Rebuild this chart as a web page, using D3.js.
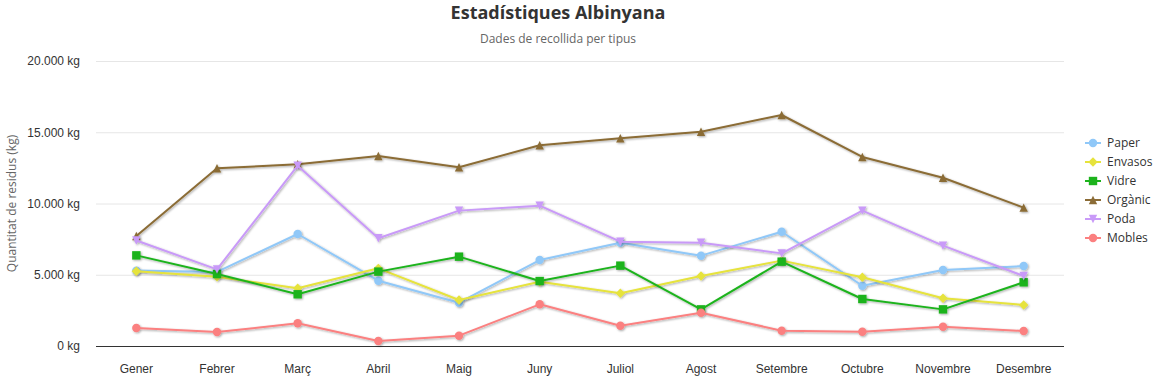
<!DOCTYPE html>
<html><head><meta charset="utf-8">
<script src="https://cdn.jsdelivr.net/npm/d3@7/dist/d3.min.js"></script>
<style>body{margin:0;background:#fff;}svg{display:block;font-family:"Open Sans","Noto Sans",sans-serif;}</style>
</head><body><svg id="c" width="1159" height="379"></svg>
<script>
const months = ["Gener","Febrer","Març","Abril","Maig","Juny","Juliol","Agost","Setembre","Octubre","Novembre","Desembre"];
const seriesNames = ["Paper","Envasos","Vidre","Orgànic","Poda","Mobles"];
const paper   = [5290,5200,7860,4580,3040,6030,7250,6340,8020,4230,5330,5610];
const envasos = [5250,4860,4050,5450,3230,4510,3700,4910,5990,4820,3350,2880];
const vidre   = [6360,5050,3630,5220,6270,4560,5640,2570,5920,3300,2570,4470];
const organic = [7720,12470,12750,13330,12540,14085,14575,15040,16210,13265,11810,9710];
const poda    = [7400,5380,12650,7560,9500,9850,7320,7250,6500,9500,7040,4910];
const mobles  = [1260,980,1590,350,725,2925,1425,2340,1075,1005,1355,1050];
const yTicks  = [0,5000,10000,15000,20000];
const colors  = ["#90c8f8","#e6e33c","#1cb31c","#8b6c36","#c99af8","#fb8080"];
const symbols = ["circle","diamond","square","triangle","tdown","circle"];
const values  = [paper,envasos,vidre,organic,poda,mobles];

const svg = d3.select("#c");
const L=96,R=1064,T=61,B=346;
const x = d3.scaleBand().domain(months).range([L,R]);
const y = d3.scaleLinear().domain([0,20000]).range([B,T]);
const fmt = v => d3.format(",")(v).replace(/,/g,".")+" kg";

const defs = svg.append("defs");
const f = defs.append("filter").attr("id","sh").attr("x","-5%").attr("y","-20%").attr("width","110%").attr("height","140%");
f.append("feDropShadow").attr("dx",1).attr("dy",1).attr("stdDeviation",1.2).attr("flood-color","#000").attr("flood-opacity",0.35);

svg.append("text").attr("x",558).attr("y",19).attr("text-anchor","middle")
  .attr("font-size",18).attr("font-weight","bold").attr("fill","#333").text("Estadístiques Albinyana");
svg.append("text").attr("x",558).attr("y",43).attr("text-anchor","middle")
  .attr("font-size",12).attr("fill","#666").text("Dades de recollida per tipus");

const yAxis = d3.axisLeft(y).tickValues(yTicks).tickSize(-(R-L)).tickFormat(fmt).tickPadding(16);
const gy = svg.append("g").attr("transform",`translate(${L},0)`).call(yAxis);
gy.select(".domain").remove();
gy.selectAll(".tick line").attr("stroke","#e6e6e6");
gy.selectAll(".tick text").attr("font-size",12).attr("fill","#333");

svg.append("text").attr("transform",`translate(16,${(T+B)/2}) rotate(-90)`).attr("text-anchor","middle")
  .attr("font-size",12).attr("fill","#666").text("Quantitat de residus (kg)");

const xAxis = d3.axisBottom(x).tickSize(0).tickPadding(18);
const gx = svg.append("g").attr("transform",`translate(0,${B})`).call(xAxis);
gx.select(".domain").attr("stroke","#333").attr("d",`M${L},0.5H${R}`);
gx.selectAll(".tick text").attr("font-size",12).attr("fill","#333");

function sym(s){
  const r=4.2;
  switch(s){
    case "circle": return d3.symbol(d3.symbolCircle,56)();
    case "diamond": return `M0,${-r-0.5}L${r+0.5},0L0,${r+0.5}L${-r-0.5},0Z`;
    case "square": return `M${-r},${-r}H${r}V${r}H${-r}Z`;
    case "triangle": return `M0,${-r}L${r},${r}H${-r}Z`;
    case "tdown": return `M0,${r}L${r},${-r}H${-r}Z`;
  }
}
const line = d3.line().x((d,i)=>x(months[i])+x.bandwidth()/2).y(d=>y(d));

values.forEach((vals,k)=>{
  const g = svg.append("g").attr("filter","url(#sh)");
  g.append("path").attr("d",line(vals)).attr("fill","none").attr("stroke",colors[k]).attr("stroke-width",2).attr("stroke-linejoin","round");
  vals.forEach((v,i)=>{
    g.append("path").attr("d",sym(symbols[k]))
      .attr("transform",`translate(${x(months[i])+x.bandwidth()/2},${y(v)})`)
      .attr("fill",colors[k]);
  });
});

const lg = svg.append("g");
seriesNames.forEach((n,k)=>{
  const yy = 143 + k*19;
  lg.append("line").attr("x1",1085).attr("x2",1101).attr("y1",yy).attr("y2",yy).attr("stroke",colors[k]).attr("stroke-width",2);
  lg.append("path").attr("d",sym(symbols[k])).attr("transform",`translate(1093,${yy})`).attr("fill",colors[k]);
  lg.append("text").attr("x",1107).attr("y",yy+4).attr("font-size",12).attr("fill","#333").text(n);
});
</script></body></html>
